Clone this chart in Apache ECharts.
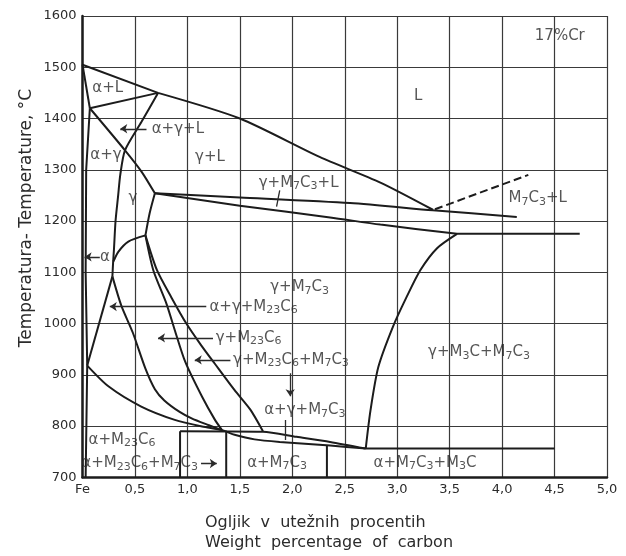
<!DOCTYPE html>
<html>
<head>
<meta charset="utf-8">
<script src="https://cdn.jsdelivr.net/npm/echarts@6/dist/echarts.min.js"></script>
<style>html,body{margin:0;padding:0;background:#fff}#c{width:626px;height:556px}</style>
</head>
<body>
<div id="c"></div>
<script>
// ---- tick labels ----
const xTicks = ['Fe','0,5','1,0','1,5','2,0','2,5','3,0','3,5','4,0','4,5','5,0'];
const yTicks = ['700','800','900','1000','1100','1200','1300','1400','1500','1600'];

// ---- phase boundaries [wt% C, °C] ----
const liquidusA     = [[0,1505],[0.72,1450]];
const liquidusB     = [[0.72,1450],[1.5,1400],[2.26,1325],[2.84,1275],[3.34,1222]];
const m7c3Liquidus  = [[3.36,1223],[4.25,1290]];             // dashed
const alphaSolidus  = [[0,1505],[0.07,1420]];
const triangleTop   = [[0.07,1420],[0.72,1450]];
const alphaSolvus   = [[0.07,1420],[0.035,1300],[0.03,1100],[0.045,918],[0.03,700]];
const gammaSolidus  = [[0.07,1420],[0.405,1338],[0.564,1296],[0.69,1254]];
const gammaLeft     = [[0.72,1450],[0.564,1394],[0.405,1338],[0.36,1290],[0.34,1250],[0.315,1200],[0.30,1145],[0.292,1120],[0.285,1092]];
const gammaRight    = [[0.69,1254],[0.64,1215],[0.60,1172]];
const gammaArc      = [[0.60,1172],[0.437,1160],[0.341,1140],[0.294,1121]];
const alphaGammaLow = [[0.285,1092],[0.045,918]];
const lineA         = [[0.285,1092],[0.37,1035],[0.48,982],[0.60,912],[0.69,872],[0.78,850],[0.93,827],[1.04,815],[1.2,802],[1.33,792]];
const lineB         = [[0.60,1172],[0.675,1104],[0.80,1039],[0.88,987],[0.98,925],[1.14,857],[1.26,813],[1.33,792]];
const lineC         = [[0.60,1172],[0.71,1104],[0.85,1050],[0.99,1000],[1.13,958],[1.26,922],[1.45,870],[1.60,832],[1.72,790]];
const eutUpper      = [[0.69,1254],[1.5,1246],[2.55,1235],[3.34,1221],[4.14,1208]];
const eutLower      = [[0.69,1254],[1.5,1230],[2.36,1207],[2.84,1193],[3.57,1175]];
const line1175      = [[3.57,1175],[4.74,1175]];
const m3cBoundary   = [[2.70,756],[2.745,830],[2.82,915],[2.96,994],[3.09,1052],[3.22,1104],[3.38,1147],[3.57,1175]];
const upper790      = [[0.93,790],[1.72,789],[2.04,779],[2.36,769],[2.70,756]];
const lowerAlpha    = [[0.045,918],[0.25,877],[0.56,838],[0.88,812],[1.14,799],[1.33,792],[1.45,783],[1.64,774],[1.88,769],[2.36,762],[2.70,756]];
const line755       = [[2.70,756],[4.50,756]];
const vert093       = [[0.93,700],[0.93,790]];
const vert137       = [[1.37,700],[1.37,791]];
const vert233       = [[2.33,700],[2.33,762]];

// ---- region labels [text, x, y]  (_n = subscript) ----
const centerLabels = [
  ['α+L',0.24,1459],['γ+L',1.215,1325],['α+γ',0.224,1329],['γ',0.48,1244],['α',0.215,1130],
  ['L',3.20,1443],['17%Cr',4.55,1560],['γ+M_7C_3+L',2.06,1274],['M_7C_3+L',4.34,1244],
  ['γ+M_7C_3',2.07,1071],['α+γ+M_7C_3',2.12,831],['α+M_23C_6',0.377,773],
  ['α+M_23C_6+M_7C_3',0.545,727],['α+M_7C_3',1.855,728],['α+M_7C_3+M_3C',3.265,728],
  ['γ+M_3C+M_7C_3',3.78,944]
];
const leftLabels = [
  ['α+γ+L',0.66,1380],['α+γ+M_23C_6',1.21,1033],['γ+M_23C_6',1.27,972],['γ+M_23C_6+M_7C_3',1.435,929]
];
// ---- label arrows (tail -> tip) and pointers ----
const arrows = [
  [[0.61,1380],[0.36,1380]], [[0.165,1130],[0.02,1130]], [[1.18,1033],[0.26,1033]],
  [[1.244,972],[0.72,972]], [[1.41,929],[1.07,929]], [[1.13,727],[1.28,727]], [[1.98,903],[1.98,858]]
];
const pointers = [
  [[1.88,1260],[1.85,1228]], [[1.93,812],[1.93,773]]
];

const FONT = 'DejaVu Sans';
const INK = '#1c1c1c';
const TXT = '#2b2b2b';

// [points, smooth?]
const curves = [
  [liquidusA,false],[liquidusB,true],[alphaSolidus,false],[triangleTop,false],[alphaSolvus,false],
  [gammaSolidus,true],[gammaLeft,true],[gammaRight,true],[gammaArc,true],[alphaGammaLow,false],
  [lineA,true],[lineB,true],[lineC,true],[eutUpper,true],[eutLower,true],[line1175,false],
  [m3cBoundary,true],[upper790,true],[lowerAlpha,true],[line755,false],
  [vert093,false],[vert137,false],[vert233,false]
];

const toRich = s => s.replace(/_(\d+)/g, '{s|$1}');
const labelStyle = {
  show: true, position: 'inside', color: TXT, fontFamily: FONT, fontSize: 15, lineHeight: 18,
  formatter: p => toRich(p.name),
  rich: { s: { fontSize: 11, lineHeight: 10, verticalAlign: 'bottom', fontFamily: FONT, color: TXT } }
};

const series = curves.map(([d, sm]) => ({
  type: 'line', data: d, smooth: sm ? 0.25 : false,
  showSymbol: false, symbol: 'none', silent: true,
  lineStyle: { color: INK, width: 2 }, z: 3
}));
series.push({
  type: 'line', data: m7c3Liquidus, showSymbol: false, symbol: 'none', silent: true,
  lineStyle: { color: INK, width: 2, type: [8, 4] }, z: 3
});
series.push({
  type: 'lines', coordinateSystem: 'cartesian2d', silent: true, z: 4,
  data: arrows.map(c => ({ coords: c })), symbol: ['none', 'arrow'], symbolSize: [0, 7],
  lineStyle: { color: TXT, width: 1.3, opacity: 1 }
});
series.push({
  type: 'lines', coordinateSystem: 'cartesian2d', silent: true, z: 4,
  data: pointers.map(c => ({ coords: c })), symbol: 'none',
  lineStyle: { color: TXT, width: 1.3, opacity: 1 }
});
series.push({
  type: 'scatter', silent: true, symbolSize: 1, itemStyle: { color: 'rgba(0,0,0,0)' }, z: 5,
  data: centerLabels.map(([t, x, y]) => ({ name: t, value: [x, y] })),
  label: labelStyle
});
series.push({
  type: 'scatter', silent: true, symbolSize: 1, itemStyle: { color: 'rgba(0,0,0,0)' }, z: 5,
  data: leftLabels.map(([t, x, y]) => ({ name: t, value: [x, y] })),
  label: Object.assign({}, labelStyle, { align: 'left' })
});

const chart = echarts.init(document.getElementById('c'), null, { renderer: 'canvas' });
chart.setOption({
  animation: false,
  backgroundColor: '#ffffff',
  grid: { left: 82.5, right: 19, top: 16, bottom: 78.7, containLabel: false },
  xAxis: {
    type: 'value', min: 0, max: 5, interval: 0.5,
    axisLine: { show: true, onZero: false, lineStyle: { color: INK, width: 2.5 } },
    axisTick: { show: false },
    splitLine: { show: true, lineStyle: { color: '#3a3a3a', width: 1.2 } },
    axisLabel: { formatter: v => xTicks[Math.round(v / 0.5)], fontFamily: FONT, fontSize: 13, color: TXT, margin: 6 }
  },
  yAxis: {
    type: 'value', min: 700, max: 1600, interval: 100,
    axisLine: { show: true, onZero: false, lineStyle: { color: INK, width: 2.5 } },
    axisTick: { show: false },
    splitLine: { show: true, lineStyle: { color: '#3a3a3a', width: 1.2 } },
    axisLabel: { formatter: v => yTicks[Math.round((v - 700) / 100)], fontFamily: FONT, fontSize: 13, color: TXT, margin: 6, padding: [10, 0, 0, 0] }
  },
  graphic: [
    { type: 'text', x: 27, y: 218, rotation: Math.PI / 2,
      style: { text: 'Temperatura- Temperature, °C', font: '17px "DejaVu Sans"', fill: TXT, textAlign: 'center', textVerticalAlign: 'middle' } },
    { type: 'text', x: 205, y: 513,
      style: { text: 'Ogljik  v  utežnih  procentih\nWeight  percentage  of  carbon', font: '16px "DejaVu Sans"', lineHeight: 20, fill: TXT, textAlign: 'left', textVerticalAlign: 'top' } }
  ],
  series: series
});
</script>
</body>
</html>
